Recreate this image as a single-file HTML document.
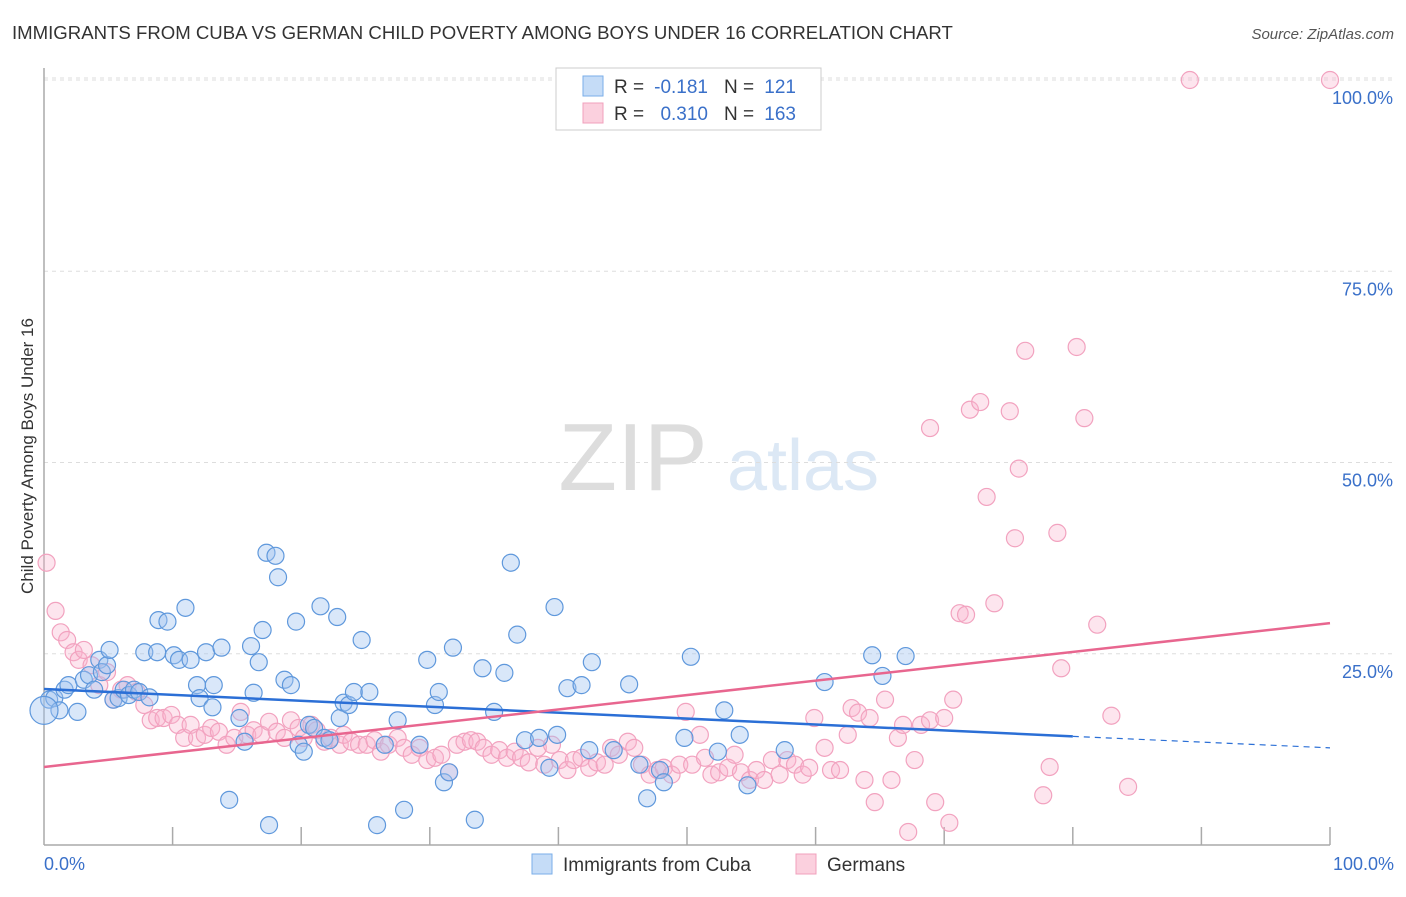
<!DOCTYPE html>
<html><head><meta charset="utf-8"><style>
body{margin:0;background:#fff;font-family:"Liberation Sans",sans-serif;}
svg text{font-family:"Liberation Sans",sans-serif;}
</style></head><body>
<svg id="chart" width="1406" height="892" viewBox="0 0 1406 892" xmlns="http://www.w3.org/2000/svg">
<text x="12" y="39" font-size="18.6" fill="#333">IMMIGRANTS FROM CUBA VS GERMAN CHILD POVERTY AMONG BOYS UNDER 16 CORRELATION CHART</text>
<text x="1394" y="39" font-size="15" fill="#555" text-anchor="end" font-style="italic">Source: ZipAtlas.com</text>
<g>
<text x="633" y="490" font-size="96" fill="#ddd" text-anchor="middle" font-family="Liberation Serif">ZIP</text>
<text x="803" y="490" font-size="72" fill="#dce8f5" text-anchor="middle">atlas</text>
</g>
<g id="grid"></g>
<g id="axes"></g>
<g id="pink"></g>
<g id="blue"></g>
<g id="trends"></g>
<text transform="translate(33,456) rotate(-90)" font-size="17" fill="#333" text-anchor="middle">Child Poverty Among Boys Under 16</text>
<g>
<rect x="556" y="68" width="265" height="62" fill="#fff" stroke="#ccc"/>
<rect x="583" y="76" width="20" height="20" fill="#c5dcf7" stroke="#7aaee8"/>
<rect x="583" y="103" width="20" height="20" fill="#fbd0de" stroke="#f0a0bc"/>
<text x="614" y="93" font-size="19" fill="#333">R =</text>
<text x="708" y="93" font-size="19" fill="#3a70c9" text-anchor="end">-0.181</text>
<text x="724" y="93" font-size="19" fill="#333">N =</text>
<text x="796" y="93" font-size="19" fill="#3a70c9" text-anchor="end">121</text>
<text x="614" y="120" font-size="19" fill="#333">R =</text>
<text x="708" y="120" font-size="19" fill="#3a70c9" text-anchor="end">0.310</text>
<text x="724" y="120" font-size="19" fill="#333">N =</text>
<text x="796" y="120" font-size="19" fill="#3a70c9" text-anchor="end">163</text>
</g>
<g>
<rect x="532" y="854" width="20" height="20" fill="#c5dcf7" stroke="#7aaee8"/>
<text x="563" y="871" font-size="19" fill="#333">Immigrants from Cuba</text>
<rect x="796" y="854" width="20" height="20" fill="#fbd0de" stroke="#f0a0bc"/>
<text x="827" y="871" font-size="19" fill="#333">Germans</text>
</g>
</svg>
<script>
const blueX=[0.4,0.8,1.2,1.6,1.9,2.6,3.1,3.5,3.9,4.3,4.5,4.9,5.1,5.4,5.8,6.2,6.6,7.0,7.4,7.8,8.2,8.8,8.9,9.6,10.1,10.5,11.0,11.4,11.9,12.1,12.6,13.1,13.2,13.8,14.4,15.2,15.6,16.1,16.3,16.7,17.0,17.3,17.5,18.0,18.2,18.7,19.2,19.6,19.8,20.2,20.6,21.0,21.5,21.8,22.2,22.8,23.0,23.3,23.7,24.1,24.7,25.3,25.9,26.5,27.5,28.0,29.2,29.8,30.4,30.7,31.1,31.5,31.8,33.5,34.1,35.0,35.8,36.3,36.8,37.4,38.5,39.3,39.7,39.9,40.7,41.8,42.4,42.6,44.3,45.5,46.3,46.9,47.9,48.2,49.8,50.3,52.4,52.9,54.1,54.7,57.6,60.7,64.4,65.2,67.0];
const blueY=[19.0,19.2,17.6,20.3,20.9,17.4,21.6,22.2,20.3,24.2,22.6,23.5,25.5,19.0,19.2,20.3,19.6,20.3,20.0,25.2,19.3,25.2,29.4,29.2,24.8,24.2,31.0,24.2,20.9,19.2,25.2,18.0,20.9,25.8,5.9,16.6,13.5,26.0,19.9,23.9,28.1,38.2,2.6,37.8,35.0,21.6,20.9,29.2,13.1,12.2,15.7,15.3,31.2,14.0,13.7,29.8,16.6,18.6,18.3,20.0,26.8,20.0,2.6,13.1,16.3,4.6,13.1,24.2,18.3,20.0,8.2,9.5,25.8,3.3,23.1,17.4,22.5,36.9,27.5,13.7,14.0,10.1,31.1,14.4,20.5,20.9,12.4,23.9,12.4,21.0,10.5,6.1,9.8,8.2,14.0,24.6,12.2,17.6,14.4,7.8,12.4,21.3,24.8,22.1,24.7];
const pinkX=[0.2,0.9,1.3,1.8,2.3,2.7,3.1,3.7,4.3,4.9,5.4,6.0,6.5,7.2,7.8,8.3,8.8,9.3,9.9,10.4,10.9,11.4,11.9,12.5,13.0,13.6,14.2,14.8,15.3,15.8,16.3,16.9,17.5,18.1,18.7,19.2,19.8,20.2,20.8,21.2,21.8,22.3,23.0,23.3,23.9,24.5,25.1,25.7,26.2,26.8,27.5,28.0,28.6,29.2,29.8,30.4,30.9,31.5,32.1,32.7,33.2,33.7,34.2,34.8,35.4,36.0,36.6,37.1,37.7,38.4,38.9,39.5,40.1,40.7,41.2,41.8,42.4,43.0,43.6,44.1,44.7,45.4,45.9,46.5,47.1,47.7,48.2,48.8,49.4,49.9,50.4,51.0,51.4,51.9,52.5,53.2,53.7,54.2,54.9,55.4,56.0,56.6,57.2,57.8,58.4,59.0,59.5,59.9,60.7,61.2,61.9,62.5,62.8,63.3,63.8,64.2,64.6,65.4,65.9,66.4,66.8,67.2,67.7,68.2,68.9,69.3,70.0,70.4,70.7,68.9,72.0,72.8,73.3,75.1,75.5,75.8,76.3,78.8,79.1,80.3,80.9,78.2,77.7,81.9,83.0,84.3,71.2,71.7,73.9,89.1,100];
const pinkY=[36.9,30.6,27.8,26.8,25.2,24.2,25.5,23.5,20.9,22.6,19.0,20.3,20.9,20.0,18.3,16.3,16.6,16.6,17.0,15.7,14.0,15.7,14.0,14.4,15.3,14.8,13.1,14.0,17.4,14.4,15.0,14.4,16.1,14.8,14.0,16.3,15.3,14.0,15.7,15.0,13.5,14.0,13.1,14.4,13.5,13.1,13.1,13.7,12.2,13.1,14.0,12.7,11.8,12.7,11.1,11.4,11.8,9.5,13.1,13.5,13.7,13.5,12.7,11.8,12.4,11.4,12.2,11.4,10.8,12.7,10.5,13.1,11.1,9.8,11.1,11.4,10.1,10.8,10.5,12.7,11.8,13.5,12.7,10.5,9.2,9.8,10.1,9.2,10.5,17.4,10.5,14.4,11.4,9.2,9.5,10.1,11.8,9.5,8.5,9.8,8.5,11.1,9.2,11.1,10.5,9.2,10.1,16.6,12.7,9.8,9.8,14.4,17.9,17.3,8.5,16.6,5.6,19.0,8.5,14.0,15.7,1.7,11.1,15.7,16.3,5.6,16.6,2.9,19.0,54.5,56.9,57.9,45.5,56.7,40.1,49.2,64.6,40.8,23.1,65.1,55.8,10.2,6.5,28.8,16.9,7.6,30.3,30.1,31.6,100,100];
const blueTrend=[20.4,14.2,12.7];
const pinkTrend=[10.2,29.0];
const yTicks=[25,50,75,100];
const yTickLabels=["25.0%","50.0%","75.0%","100.0%"];
const xTicks=[10,20,30,40,50,60,70,80,90,100];
const NS="http://www.w3.org/2000/svg";
const X=v=>44+v*12.86;
const Y=v=>845-v*7.65;
function mk(tag,attrs,parent){const e=document.createElementNS(NS,tag);for(const k in attrs)e.setAttribute(k,attrs[k]);document.getElementById(parent).appendChild(e);return e;}
yTicks.forEach((t,i)=>{
 const g=mk('line',{x1:44,x2:1394,y1:Y(t),y2:Y(t),stroke:'#ddd','stroke-dasharray':'4,4'},'grid');
 
 
 const l=mk('text',{x:1393,y:Y(t)+24,'font-size':18,fill:'#3a70c9','text-anchor':'end'},'axes');
 l.textContent=yTickLabels[i];
 
 
});
const topGrid=mk('line',{x1:44,x2:1394,y1:78,y2:78,stroke:'#ddd','stroke-dasharray':'4,4'},'grid');


let a=mk('line',{x1:44,x2:44,y1:68,y2:845,stroke:'#aaa','stroke-width':1.5},'axes');


a=mk('line',{x1:44,x2:1330,y1:845,y2:845,stroke:'#aaa','stroke-width':1.5},'axes');


xTicks.forEach(t=>{const k=mk('line',{x1:X(t),x2:X(t),y1:827,y2:845,stroke:'#aaa','stroke-width':1.5},'axes');
 
 });
let tl=mk('text',{x:44,y:870,'font-size':18,fill:'#3a70c9'},'axes');tl.textContent='0.0%';


tl=mk('text',{x:1394,y:870,'font-size':18,fill:'#3a70c9','text-anchor':'end'},'axes');tl.textContent='100.0%';


pinkX.forEach((v,i)=>{const c=mk('circle',{cx:X(v),cy:Y(pinkY[i]),r:8.5,fill:'rgba(248,180,205,0.35)',stroke:'#f2a2bf','stroke-width':1.2},'pink');
 
 });
blueX.forEach((v,i)=>{const c=mk('circle',{cx:X(v),cy:Y(blueY[i]),r:8.5,fill:'rgba(160,196,240,0.4)',stroke:'#5f98dc','stroke-width':1.2},'blue');
 
 });
let big=mk('circle',{cx:X(0),cy:Y(17.6),r:14,fill:'rgba(160,196,240,0.4)',stroke:'#5f98dc','stroke-width':1.2},'blue');


let t1=mk('line',{x1:X(0),y1:Y(blueTrend[0]),x2:X(80),y2:Y(blueTrend[1]),stroke:'#2b6fd6','stroke-width':2.5},'trends');


let t2=mk('line',{x1:X(80),y1:Y(blueTrend[1]),x2:X(100),y2:Y(blueTrend[2]),stroke:'#2b6fd6','stroke-width':1.2,'stroke-dasharray':'6,5'},'trends');


let t3=mk('line',{x1:X(0),y1:Y(pinkTrend[0]),x2:X(100),y2:Y(pinkTrend[1]),stroke:'#e8668f','stroke-width':2.5},'trends');


</script>
</body></html>
